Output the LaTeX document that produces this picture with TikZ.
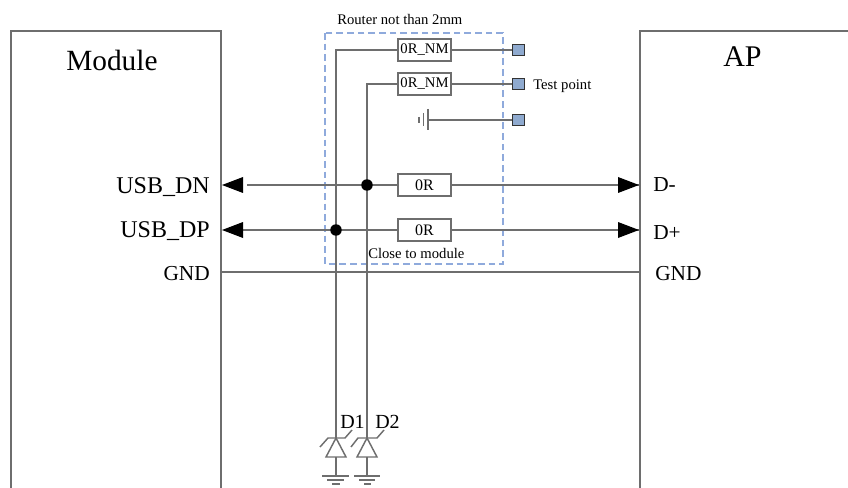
\documentclass[tikz,border=0pt]{standalone}
\usepackage{fontspec}
\setmainfont{Liberation Serif}
\definecolor{wirec}{HTML}{6E6E6E}
\definecolor{dashc}{HTML}{8FAADC}
\definecolor{padc}{HTML}{8FAACF}
\tikzset{
  wire/.style={draw=wirec,line width=1.1pt},
  res/.style={draw=wirec,line width=1.1pt,fill=white,minimum width=39.75pt,minimum height=16.2pt,inner sep=0pt},
  pad/.style={draw=black!80,line width=0.7pt,fill=padc,minimum size=8.6pt,inner sep=0pt},
  dot/.style={circle,fill=black,minimum size=8.6pt,inner sep=0pt},
  lab/.style={inner sep=0pt,font=\fontsize{16pt}{18pt}\selectfont},
  usb/.style={inner sep=0pt,font=\fontsize{18pt}{20pt}\selectfont},
  sm/.style={inner sep=0pt,font=\fontsize{11pt}{13pt}\selectfont},
  dlab/.style={inner sep=0pt,font=\fontsize{15pt}{17pt}\selectfont},
}
\begin{document}
\begin{tikzpicture}[x=0.75pt,y=-0.75pt]
\useasboundingbox (0,0) rectangle (848,488);
% module and AP outlines
\coordinate (mbl) at (11,488); \coordinate (mtl) at (11,31); \coordinate (mtr) at (221,31); \coordinate (mbr) at (221,488);
\coordinate (atr) at (848,31); \coordinate (atl) at (640,31); \coordinate (abl) at (640,488);
\draw[wire] (mbl) -- (mtl) -- (mtr) -- (mbr);
\draw[wire] (atr) -- (atl) -- (abl);
% dashed box
\draw[draw=dashc,line width=0.8pt,dash pattern=on 5pt off 3pt] (325,33) rectangle (503,264);
% resistors and pads
\node[res,font=\fontsize{11pt}{13pt}\selectfont] (r1) at (424.5,50) {0R\_NM};
\node[res,font=\fontsize{11pt}{13pt}\selectfont] (r2) at (424.5,84) {0R\_NM};
\node[res,font=\fontsize{12pt}{14pt}\selectfont] (r3) at (424.5,185) {0R};
\node[res,font=\fontsize{12pt}{14pt}\selectfont] (r4) at (424.5,230) {0R};
\node[pad] (p1) at (518.5,50) {};
\node[pad] (p2) at (518.5,84) {};
\node[pad] (p3) at (518.5,120) {};
\coordinate (g1) at (428,120);
\coordinate (j1) at (367,185);
\coordinate (j2) at (336,230);
\coordinate (dnl) at (247,185); \coordinate (dnh) at (222,185);
\coordinate (dpl) at (243,230); \coordinate (dph) at (222,230);
\coordinate (dnr) at (639,185); \coordinate (dpr) at (639,230);
\coordinate (gl) at (221,272); \coordinate (gr) at (639,272);
\coordinate (d1t) at (336,438); \coordinate (d1b) at (336,457); \coordinate (e1) at (336,476);
\coordinate (d2t) at (367,438); \coordinate (d2b) at (367,457); \coordinate (e2) at (367,476);
% wires
\draw[wire] (r1.west) -| (d1t);
\draw[wire] (r2.west) -| (d2t);
\draw[wire] (r1.east) -- (p1);
\draw[wire] (r2.east) -- (p2);
\draw[wire] (g1) -- (p3);
\draw[wire] (428,109) -- (428,130);
\draw[wire] (423.5,113) -- (423.5,126);
\draw[wire] (419,117) -- (419,123);
\draw[wire] (dnl) -- (r3.west);
\draw[wire] (dpl) -- (r4.west);
\draw[wire] (r3.east) -- (dnr);
\draw[wire] (r4.east) -- (dpr);
\draw[wire] (gl) -- (gr);
% junctions
\node[dot] (n1) at (j1) {};
\node[dot] (n2) at (j2) {};
% arrowheads
\fill (dnh) -- (243,177) -- (243,193) -- cycle;
\fill (dph) -- (243,222) -- (243,238) -- cycle;
\fill (dnr) -- (618,177) -- (618,193) -- cycle;
\fill (dpr) -- (618,222) -- (618,238) -- cycle;
% diodes
\draw[wire] (d1t) -- (326,457) -- (346,457) -- cycle;
\draw[wire] (d2t) -- (357,457) -- (377,457) -- cycle;
\draw[wire] (320,447) -- (328,438) -- (345,438) -- (352,430);
\draw[wire] (351,447) -- (358,438) -- (377,438) -- (384,430);
\draw[wire] (d1b) -- (e1);
\draw[wire] (d2b) -- (e2);
\draw[wire] (322,476) -- (349,476);
\draw[wire] (354,476) -- (380,476);
\draw[wire] (327,480) -- (344,480);
\draw[wire] (359,480) -- (375,480);
\draw[wire] (332,484) -- (340,484);
\draw[wire] (364,484) -- (371,484);
% labels
\node[inner sep=0pt,font=\fontsize{22pt}{24pt}\selectfont,anchor=base west] (tm) at (66,71) {Module};
\node[inner sep=0pt,font=\fontsize{22.5pt}{24pt}\selectfont,anchor=base west] (ta) at (723,67) {AP};
\node[sm,anchor=base west] (tr) at (337,25) {Router not than 2mm};
\node[sm,anchor=base west] (tt) at (533,90) {Test point};
\node[sm,anchor=base west] (tc) at (368,258) {Close to module};
\node[usb,anchor=base east] (u1) at (210,194) {USB\_DN};
\node[usb,anchor=base east] (u2) at (210,238) {USB\_DP};
\node[lab,anchor=base east] (u3) at (210,280) {GND};
\node[lab,anchor=base west] (a1) at (653,192) {D-};
\node[lab,anchor=base west] (a2) at (653,239) {D+};
\node[lab,anchor=base west] (a3) at (655,280) {GND};
\node[dlab,anchor=base west] (d1) at (340,428) {D1};
\node[dlab,anchor=base west] (d2) at (375,428) {D2};
\end{tikzpicture}
\end{document}
